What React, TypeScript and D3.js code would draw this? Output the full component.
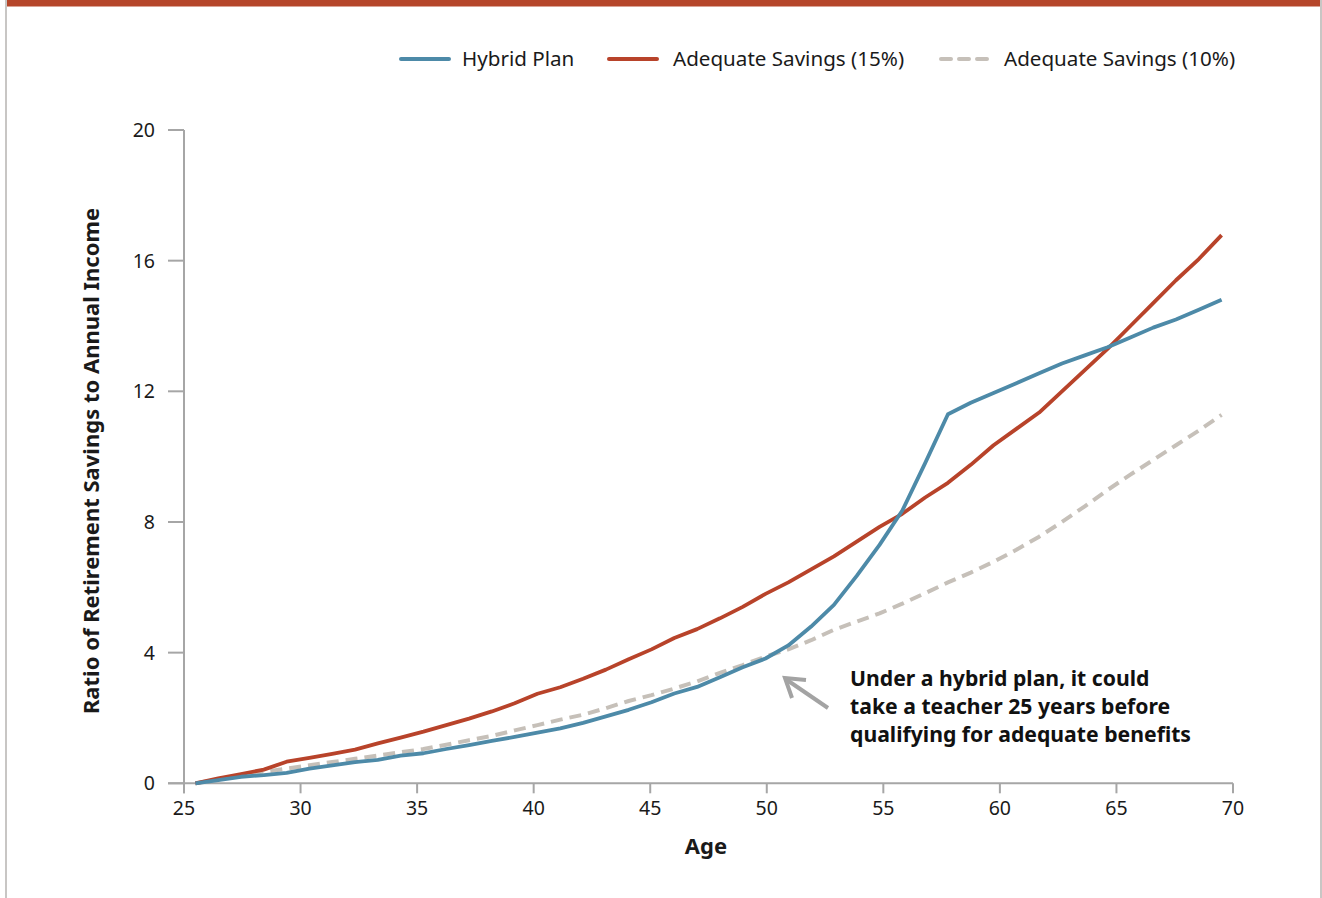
import React from "react";
import * as d3 from "d3";

const ages = d3.range(25, 71);
const hybridPlan = [
  0, 0.1, 0.2, 0.25, 0.32, 0.45, 0.55, 0.65, 0.72, 0.85,
  0.92, 1.05, 1.17, 1.3, 1.42, 1.55, 1.68, 1.85, 2.05, 2.25,
  2.48, 2.75, 2.95, 3.25, 3.55, 3.82, 4.22, 4.8, 5.46, 6.35,
  7.3, 8.35, 9.8, 11.3, 11.65, 11.95, 12.25, 12.55, 12.85, 13.1,
  13.35, 13.65, 13.95, 14.2, 14.5, 14.8,
];
const savings15 = [
  0, 0.15, 0.28, 0.42, 0.66, 0.78, 0.9, 1.03, 1.22, 1.4,
  1.58, 1.78, 1.98, 2.2, 2.45, 2.74, 2.94, 3.2, 3.48, 3.8,
  4.1, 4.45, 4.72, 5.05, 5.4, 5.8, 6.15, 6.55, 6.95, 7.4,
  7.85, 8.25, 8.75, 9.2, 9.75, 10.35, 10.85, 11.35, 12.0, 12.65,
  13.3, 14.0, 14.7, 15.4, 16.05, 16.78,
];
const savings10 = [
  0, 0.12, 0.22, 0.35, 0.45, 0.55, 0.65, 0.75, 0.85, 0.95,
  1.05, 1.18, 1.32, 1.45, 1.62, 1.78, 1.95, 2.1, 2.3, 2.52,
  2.7, 2.9, 3.12, 3.38, 3.62, 3.88, 4.1, 4.38, 4.7, 4.95,
  5.2, 5.5, 5.82, 6.15, 6.45, 6.78, 7.15, 7.55, 8.0, 8.48,
  8.98, 9.45, 9.9, 10.35, 10.8, 11.28,
];
const xTicks = [25, 30, 35, 40, 45, 50, 55, 60, 65, 70];
const yTicks = [0, 4, 8, 12, 16, 20];

const series = [
  { name: "Hybrid Plan", values: hybridPlan, color: "#4d8aa8", dash: null },
  { name: "Adequate Savings (15%)", values: savings15, color: "#b8432a", dash: null },
  { name: "Adequate Savings (10%)", values: savings10, color: "#c6c0b9", dash: "12 7" },
];

const FONT = "'Noto Sans', sans-serif";

export default function App() {
  const W = 1322, H = 898;
  const x0 = 184, x1 = 1233, y0 = 783.3, y1 = 130;
  const xAxis = d3.scaleLinear().domain([25, 70]).range([x0, x1]);
  const xData = d3.scalePoint<number>().domain(ages).range([x0, x1]).padding(0.5);
  const y = d3.scaleLinear().domain([0, 20]).range([y0, y1]);
  const line = (vals: number[]) =>
    d3.line<number>().x((_, i) => xData(ages[i]) as number).y((v) => y(v))(vals) || "";

  const legendItems = [
    { lx: 401, tx: 462 },
    { lx: 609, tx: 673 },
    { lx: 941, tx: 1004 },
  ];

  return (
    <div style={{ position: "absolute", left: 0, top: 0 }}>
      <svg width={W} height={H} style={{ display: "block", background: "#fff" }}>
        <rect x={7} y={0} width={1313} height={6.5} fill="#b5462a" />
        <line x1={6} y1={0} x2={6} y2={H} stroke="#c8c6c4" strokeWidth={2} />
        <line x1={1321} y1={0} x2={1321} y2={H} stroke="#c8c6c4" strokeWidth={2} />

        {/* legend */}
        {series.map((s, i) => (
          <g key={s.name}>
            <line
              x1={legendItems[i].lx}
              x2={legendItems[i].lx + 48}
              y1={59}
              y2={59}
              stroke={s.color}
              strokeWidth={4}
              strokeLinecap="round"
              strokeDasharray={s.dash ? "10 8" : undefined}
            />
            <text x={legendItems[i].tx} y={66} fontFamily={FONT} fontSize={20.6} fill="#1a1a1a">
              {s.name}
            </text>
          </g>
        ))}

        {/* axes */}
        <g stroke="#a6a6a6" strokeWidth={2}>
          <line x1={x0} x2={x0} y1={y1} y2={y0 + 10} />
          <line x1={x0 - 16} x2={x1} y1={y0} y2={y0} />
          {yTicks.map((t) => (
            <line key={t} x1={x0 - 16} x2={x0} y1={y(t)} y2={y(t)} />
          ))}
          {xTicks.map((t) => (
            <line key={t} x1={xAxis(t)} x2={xAxis(t)} y1={y0} y2={y0 + 10} />
          ))}
        </g>
        {yTicks.map((t) => (
          <text key={t} x={155} y={y(t) + 7} textAnchor="end" fontFamily={FONT} fontSize={19.5} fill="#1a1a1a">
            {t}
          </text>
        ))}
        {xTicks.map((t) => (
          <text key={t} x={xAxis(t)} y={815} textAnchor="middle" fontFamily={FONT} fontSize={19.5} fill="#1a1a1a">
            {t}
          </text>
        ))}
        <text x={706} y={854} textAnchor="middle" fontFamily={FONT} fontSize={22} fontWeight="bold" fill="#1a1a1a">
          Age
        </text>
        <text
          transform="translate(99,461) rotate(-90)"
          textAnchor="middle"
          fontFamily={FONT}
          fontSize={22}
          fontWeight="bold"
          fill="#1a1a1a"
        >
          Ratio of Retirement Savings to Annual Income
        </text>

        {/* lines: draw gray, then red, then blue */}
        {[2, 1, 0].map((i) => {
          const s = series[i];
          return (
            <path
              key={s.name}
              d={line(s.values)}
              fill="none"
              stroke={s.color}
              strokeWidth={i === 2 ? 4 : 3.8}
              strokeLinejoin="round"
              strokeDasharray={s.dash || undefined}
            />
          );
        })}

        {/* annotation */}
        <g stroke="#a3a3a3" strokeWidth={4} fill="none" strokeLinecap="butt">
          <line x1={828} y1={708} x2={787} y2={680} />
          <polyline points="806,680 785,678 792,698" strokeLinejoin="miter" />
        </g>
        <g fontFamily={FONT} fontSize={21.2} fontWeight="bold" fill="#111">
          <text x={850} y={686}>Under a hybrid plan, it could</text>
          <text x={850} y={714}>take a teacher 25 years before</text>
          <text x={850} y={742}>qualifying for adequate benefits</text>
        </g>
      </svg>
    </div>
  );
}
